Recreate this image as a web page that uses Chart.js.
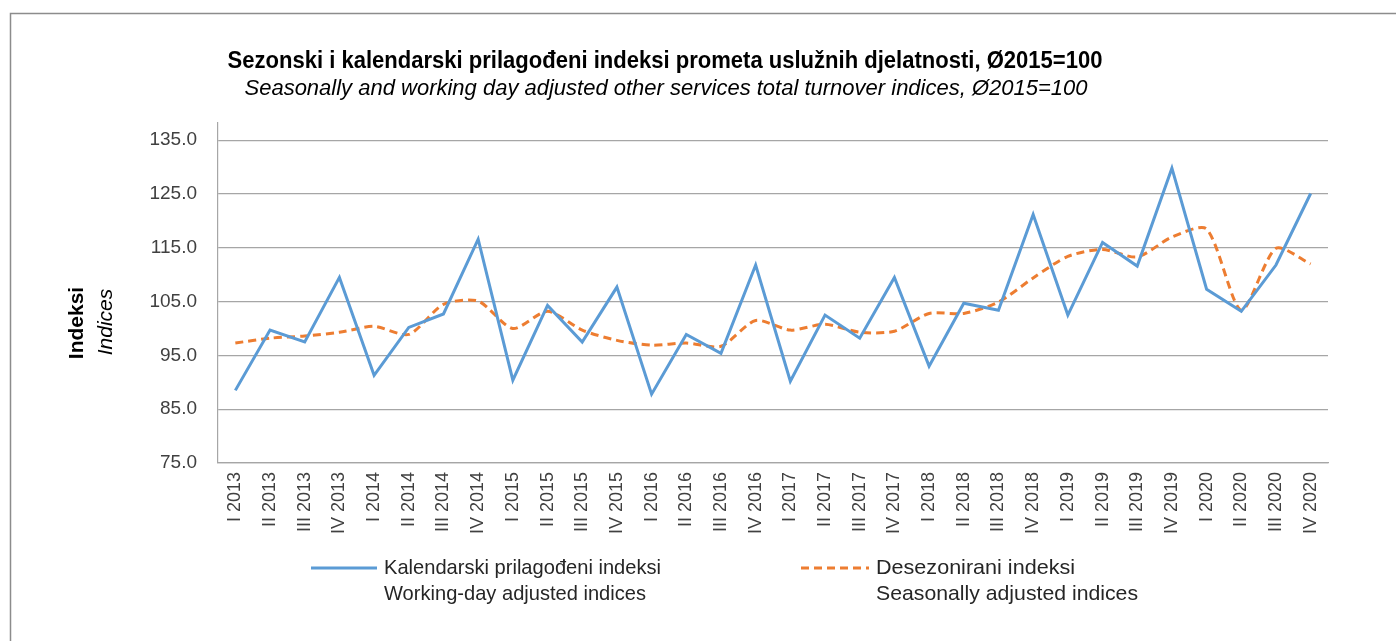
<!DOCTYPE html>
<html lang="hr">

<head>
    <meta charset="UTF-8">
    <title>Indeksi prometa uslužnih djelatnosti</title>
    <style>
        body { margin: 0; background: #fff; }
    </style>
</head>

<body>
    <canvas id="myChart" width="1396" height="641"></canvas>

    <script src="https://cdn.jsdelivr.net/npm/chart.js"></script>

    <script>
        const categories = [
            'I 2013', 'II 2013', 'III 2013', 'IV 2013',
            'I 2014', 'II 2014', 'III 2014', 'IV 2014',
            'I 2015', 'II 2015', 'III 2015', 'IV 2015',
            'I 2016', 'II 2016', 'III 2016', 'IV 2016',
            'I 2017', 'II 2017', 'III 2017', 'IV 2017',
            'I 2018', 'II 2018', 'III 2018', 'IV 2018',
            'I 2019', 'II 2019', 'III 2019', 'IV 2019',
            'I 2020', 'II 2020', 'III 2020', 'IV 2020'
        ];

        // Kalendarski prilagođeni indeksi
        const workingDayAdjusted = [
            88.5, 99.7, 97.5, 109.5,
            91.3, 100.2, 102.7, 116.6,
            90.4, 104.3, 97.5, 107.7,
            87.8, 98.9, 95.4, 111.8,
            90.2, 102.5, 98.2, 109.5,
            93.0, 104.7, 103.4, 121.2,
            102.5, 116.0, 111.6, 129.8,
            107.3, 103.2, 111.8, 125.1
        ];

        // Desezonirani indeksi
        const seasonallyAdjusted = [
            97.3, 98.2, 98.6, 99.3,
            100.4, 98.9, 104.5, 105.1,
            100.0, 103.2, 99.7, 97.8,
            96.9, 97.3, 96.7, 101.5,
            99.7, 100.8, 99.3, 99.5,
            102.8, 102.8, 104.9, 109.4,
            113.4, 114.7, 113.3, 117.0,
            118.5, 103.4, 114.9, 112.0
        ];

        const yTicks = [75, 85, 95, 105, 115, 125, 135];

        const legendLines = [
            ['Kalendarski prilagođeni indeksi', 'Working-day adjusted indices'],
            ['Desezonirani indeksi', 'Seasonally adjusted indices']
        ];

        const FONT = "'Liberation Sans', Arial, sans-serif";

        // squeeze text horizontally to the width it has in the picture
        function fitText(c, text, x, y, width) {
            const w = c.measureText(text).width;
            c.save();
            c.translate(x, y);
            c.scale(width / w, 1);
            c.fillText(text, 0, 0);
            c.restore();
        }

        // frame, titles, y axis title and legend drawn by hand
        const decorations = {
            id: 'decorations',
            beforeDraw(chart) {
                const c = chart.ctx;
                c.save();
                c.strokeStyle = '#8c8c8c';
                c.lineWidth = 1.5;
                c.beginPath();
                c.moveTo(10.5, 641);
                c.lineTo(10.5, 13.5);
                c.lineTo(1396, 13.5);
                c.stroke();
                c.restore();
            },
            afterDraw(chart) {
                const c = chart.ctx;
                c.save();
                c.fillStyle = '#000';
                c.textAlign = 'center';
                c.textBaseline = 'middle';
                c.font = 'bold 23px ' + FONT;
                fitText(c, 'Sezonski i kalendarski prilagođeni indeksi prometa uslužnih djelatnosti, Ø2015=100', 665, 62, 875);
                c.font = 'italic 22px ' + FONT;
                fitText(c, 'Seasonally and working day adjusted other services total turnover indices, Ø2015=100', 666, 89, 843);

                // y axis title
                c.save();
                c.translate(77, 323);
                c.rotate(-Math.PI / 2);
                c.font = 'bold 21px ' + FONT;
                c.fillText('Indeksi', 0, 0);
                c.restore();
                c.save();
                c.translate(106, 322);
                c.rotate(-Math.PI / 2);
                c.font = 'italic 21px ' + FONT;
                c.fillText('Indices', 0, 0);
                c.restore();

                // legend
                const items = [
                    { x0: 311, x1: 377, tx: 384, w: [277, 262] },
                    { x0: 801, x1: 869, tx: 876, w: [199, 262] }
                ];
                chart.data.datasets.forEach((ds, i) => {
                    const it = items[i];
                    c.strokeStyle = ds.borderColor;
                    c.lineWidth = ds.borderWidth;
                    c.setLineDash(ds.borderDash || []);
                    c.beginPath();
                    c.moveTo(it.x0, 568);
                    c.lineTo(it.x1, 568);
                    c.stroke();
                    c.setLineDash([]);
                    c.fillStyle = '#262626';
                    c.textAlign = 'left';
                    c.font = '21px ' + FONT;
                    fitText(c, legendLines[i][0], it.tx, 568, it.w[0]);
                    fitText(c, legendLines[i][1], it.tx, 594, it.w[1]);
                });
                c.restore();
            }
        };

        const ctx = document.getElementById('myChart');
        new Chart(ctx, {
            type: 'line',
            data: {
                labels: categories,
                datasets: [{
                    label: legendLines[0].join(' / '),
                    data: workingDayAdjusted,
                    borderColor: '#5B9BD5',
                    backgroundColor: '#5B9BD5',
                    borderWidth: 3,
                    pointRadius: 0,
                    tension: 0
                },
                {
                    label: legendLines[1].join(' / '),
                    data: seasonallyAdjusted,
                    borderColor: '#ED7D31',
                    backgroundColor: '#ED7D31',
                    borderWidth: 3,
                    borderDash: [8, 5],
                    pointRadius: 0,
                    tension: 0.25
                }]
            },
            options: {
                responsive: false,
                animation: false,
                layout: {
                    padding: { left: 0, top: 123, right: 68, bottom: 0 }
                },
                plugins: {
                    legend: { display: false },
                    title: { display: false },
                    tooltip: { enabled: false }
                },
                scales: {
                    x: {
                        offset: true,
                        grid: { display: false, drawTicks: false },
                        border: { display: true, color: '#a6a6a6', width: 1.2 },
                        ticks: {
                            autoSkip: false,
                            minRotation: 90,
                            maxRotation: 90,
                            padding: 9,
                            color: '#404040',
                            font: { family: FONT, size: 18 }
                        },
                        afterFit(scale) { scale.height = 178; }
                    },
                    y: {
                        min: 75,
                        max: 138.2,
                        afterBuildTicks(scale) {
                            scale.ticks = yTicks.map(v => ({ value: v }));
                        },
                        grid: { color: '#a6a6a6', lineWidth: 1.2, drawTicks: false },
                        border: { display: true, color: '#a6a6a6', width: 1.2 },
                        ticks: {
                            padding: 21,
                            color: '#404040',
                            font: { family: FONT, size: 19 },
                            callback: v => v.toFixed(1)
                        },
                        afterFit(scale) { scale.width = 218; }
                    }
                }
            },
            plugins: [decorations]
        });
    </script>

</body>

</html>
